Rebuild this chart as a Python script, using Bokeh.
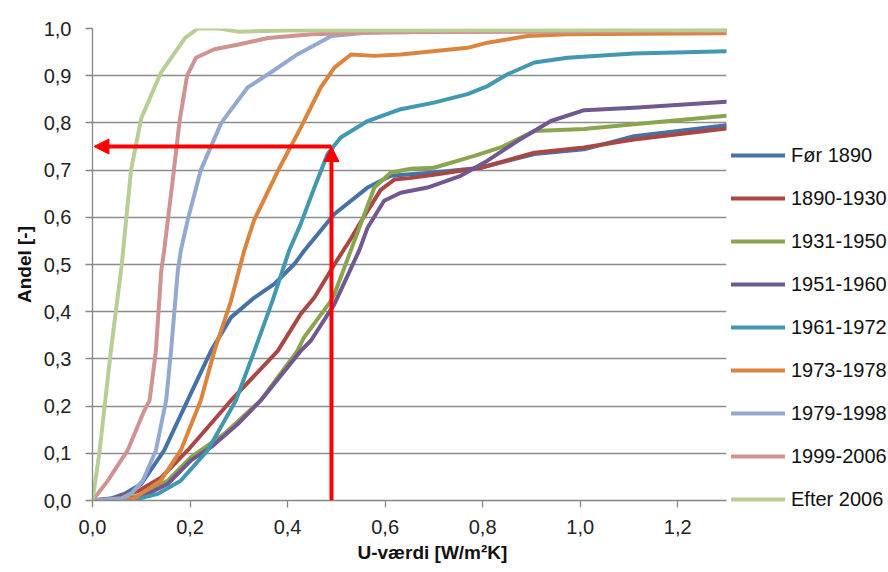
from bokeh.plotting import figure
from bokeh.models import (Range1d, FixedTicker, CustomJSTickFormatter, Legend,
                          LegendItem, Title, Arrow, NormalHead)
from bokeh.embed import file_html
from bokeh.resources import INLINE

# ---------------- data ----------------
SERIES_NAMES = ["Før 1890", "1890-1930", "1931-1950", "1951-1960", "1961-1972",
                "1973-1978", "1979-1998", "1999-2006", "Efter 2006"]
SERIES_COLORS = ["#4572A7", "#AA4643", "#89A54E", "#71588F", "#4198AF",
                 "#DB843D", "#93A9CF", "#D19392", "#B9CD96"]

u_foer1890 = [0, 0.04, 0.065, 0.1, 0.147, 0.195, 0.243, 0.284, 0.332, 0.373, 0.414, 0.434,
              0.496, 0.564, 0.612, 0.70, 0.796, 0.906, 1.008, 1.11, 1.3]
a_foer1890 = [0, 0.005, 0.014, 0.035, 0.106, 0.212, 0.317, 0.388, 0.43, 0.459, 0.501, 0.529,
              0.607, 0.663, 0.688, 0.695, 0.705, 0.734, 0.744, 0.772, 0.795]

u_1890 = [0, 0.05, 0.096, 0.141, 0.195, 0.284, 0.38, 0.427, 0.455, 0.496, 0.53, 0.55, 0.591,
          0.619, 0.65, 0.70, 0.796, 0.906, 1.008, 1.11, 1.3]
a_1890 = [0, 0.005, 0.021, 0.049, 0.106, 0.212, 0.317, 0.395, 0.43, 0.50, 0.555, 0.59, 0.658,
          0.68, 0.683, 0.69, 0.705, 0.737, 0.748, 0.765, 0.788]

u_1931 = [0, 0.06, 0.096, 0.154, 0.202, 0.27, 0.345, 0.42, 0.434, 0.489, 0.496, 0.537, 0.578,
          0.612, 0.653, 0.70, 0.783, 0.837, 0.906, 1.008, 1.11, 1.3]
a_1931 = [0, 0.002, 0.01, 0.042, 0.092, 0.141, 0.212, 0.317, 0.346, 0.423, 0.437, 0.55, 0.663,
          0.695, 0.703, 0.705, 0.73, 0.748, 0.783, 0.787, 0.797, 0.815]

u_1951 = [0, 0.06, 0.1, 0.154, 0.202, 0.243, 0.298, 0.345, 0.427, 0.448, 0.496, 0.547, 0.564,
          0.598, 0.632, 0.687, 0.755, 0.81, 0.872, 0.94, 1.008, 1.11, 1.3]
a_1951 = [0, 0.002, 0.007, 0.035, 0.085, 0.113, 0.162, 0.212, 0.317, 0.339, 0.416, 0.53, 0.578,
          0.635, 0.652, 0.663, 0.688, 0.72, 0.762, 0.804, 0.827, 0.832, 0.845]

u_1961 = [0, 0.05, 0.1, 0.134, 0.181, 0.236, 0.294, 0.332, 0.369, 0.403, 0.427, 0.455, 0.482,
          0.509, 0.564, 0.632, 0.70, 0.769, 0.81, 0.851, 0.906, 0.974, 1.11, 1.3]
a_1961 = [0, 0.002, 0.005, 0.014, 0.042, 0.106, 0.212, 0.317, 0.423, 0.529, 0.586, 0.663, 0.734,
          0.769, 0.804, 0.829, 0.843, 0.861, 0.878, 0.903, 0.928, 0.938, 0.947, 0.952]

u_1973 = [0, 0.06, 0.086, 0.14, 0.181, 0.222, 0.25, 0.284, 0.311, 0.331, 0.38, 0.427, 0.468,
          0.496, 0.53, 0.578, 0.632, 0.769, 0.81, 0.892, 0.974, 1.3]
a_1973 = [0, 0.001, 0.005, 0.042, 0.106, 0.212, 0.317, 0.423, 0.529, 0.593, 0.698, 0.79, 0.875,
          0.917, 0.945, 0.942, 0.945, 0.959, 0.97, 0.984, 0.988, 0.99]

u_1979 = [0, 0.06, 0.08, 0.103, 0.13, 0.151, 0.161, 0.175, 0.181, 0.195, 0.222, 0.264, 0.318,
          0.37, 0.42, 0.49, 0.56, 0.7, 1.3]
a_1979 = [0, 0.005, 0.015, 0.042, 0.106, 0.212, 0.317, 0.487, 0.529, 0.593, 0.70, 0.80, 0.875,
          0.91, 0.945, 0.984, 0.991, 0.993, 0.995]

u_1999 = [0, 0.03, 0.072, 0.106, 0.117, 0.13, 0.141, 0.147, 0.167, 0.178, 0.194, 0.212, 0.25,
          0.3, 0.36, 0.45, 0.6, 1.3]
a_1999 = [0, 0.04, 0.106, 0.19, 0.212, 0.317, 0.487, 0.53, 0.70, 0.80, 0.90, 0.938, 0.956,
          0.966, 0.98, 0.988, 0.992, 0.995]

u_efter2006 = [0, 0.014, 0.038, 0.06, 0.079, 0.1, 0.14, 0.19, 0.216, 0.26, 0.3, 0.4, 1.3]
a_efter2006 = [0, 0.1, 0.32, 0.5, 0.70, 0.81, 0.906, 0.98, 1.0, 1.0, 0.993, 0.996, 0.997]

X_TICKS = [0.0, 0.2, 0.4, 0.6, 0.8, 1.0, 1.2]
Y_TICKS = [0.0, 0.1, 0.2, 0.3, 0.4, 0.5, 0.6, 0.7, 0.8, 0.9, 1.0]

X_TITLE = "U-værdi [W/m²K]"
Y_TITLE = "Andel [-]"

# red arrows: read-off point
ARROW_U = 0.49
ARROW_SHARE = 0.75
ARROW_U_END = 0.003

SERIES_U = [u_foer1890, u_1890, u_1931, u_1951, u_1961, u_1973, u_1979, u_1999, u_efter2006]
SERIES_A = [a_foer1890, a_1890, a_1931, a_1951, a_1961, a_1973, a_1979, a_1999, a_efter2006]

# ---------------- figure ----------------
FONT = "Liberation Sans"

p = figure(frame_width=634, frame_height=472,
           x_range=Range1d(0, 1.3), y_range=Range1d(0, 1.0),
           output_backend="svg", toolbar_location=None,
           min_border_left=92, min_border_top=28, min_border_right=0, min_border_bottom=0,
           background_fill_color="white", border_fill_color="white")
p.outline_line_color = None

p.xgrid.grid_line_color = None
p.ygrid.grid_line_color = "#8c8c8c"
p.ygrid.grid_line_width = 1.3

p.xaxis.ticker = FixedTicker(ticks=X_TICKS)
p.yaxis.ticker = FixedTicker(ticks=Y_TICKS)
fmt = CustomJSTickFormatter(code="return tick.toFixed(1).replace('.', ',');")
p.xaxis.formatter = fmt
p.yaxis.formatter = fmt

for ax in (p.xaxis[0], p.yaxis[0]):
    ax.axis_line_color = "#868686"
    ax.axis_line_width = 1.3
    ax.major_tick_line_color = "#868686"
    ax.major_tick_line_width = 1.3
    ax.major_tick_out = 7
    ax.major_tick_in = 0
    ax.minor_tick_line_color = None
    ax.major_label_text_font = FONT
    ax.major_label_text_font_size = "20px"
    ax.major_label_text_color = "#222222"

p.yaxis.major_label_standoff = 14
p.xaxis.major_label_standoff = 12

p.add_layout(Title(text=X_TITLE, align="left", offset=265, standoff=7,
                   text_font=FONT, text_font_style="bold", text_font_size="19px",
                   text_color="#111111"), "below")
p.add_layout(Title(text=Y_TITLE, align="center", offset=0, standoff=12,
                   text_font=FONT, text_font_style="bold", text_font_size="19px",
                   text_color="#111111"), "left")

items = []
for name, color, xs, ys in zip(SERIES_NAMES, SERIES_COLORS, SERIES_U, SERIES_A):
    r = p.line(xs, ys, line_color=color, line_width=4,
               line_join="round", line_cap="round")
    items.append(LegendItem(label=name, renderers=[r]))

legend = Legend(items=items, location=(5, -11), orientation="vertical",
                glyph_width=54, glyph_height=24, label_height=24, spacing=19,
                padding=0, margin=0, label_standoff=6,
                border_line_color=None, background_fill_alpha=0,
                label_text_font=FONT, label_text_font_size="20px",
                label_text_color="#111111")
p.add_layout(legend, "right")

# red read-off arrows
p.add_layout(Arrow(end=NormalHead(size=15, fill_color="#ff0000", line_color="#ff0000"),
                   x_start=ARROW_U, y_start=0.0, x_end=ARROW_U, y_end=ARROW_SHARE,
                   line_color="#ff0000", line_width=4))
p.add_layout(Arrow(end=NormalHead(size=15, fill_color="#ff0000", line_color="#ff0000"),
                   x_start=ARROW_U, y_start=ARROW_SHARE, x_end=ARROW_U_END, y_end=ARROW_SHARE,
                   line_color="#ff0000", line_width=4))

open("out.html", "w").write(file_html(p, INLINE))
